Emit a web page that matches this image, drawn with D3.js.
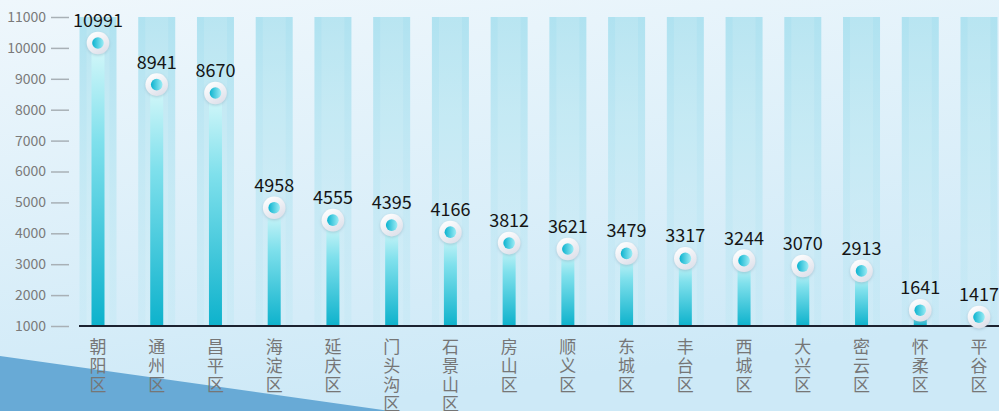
<!DOCTYPE html>
<meta charset="utf-8">
<head>
<script src="https://cdnjs.cloudflare.com/ajax/libs/d3/7.8.5/d3.min.js"></script>
<style>
body { margin:0; overflow:hidden; }
#chart { width:999px; height:411px; }
text { font-family: "Noto Sans CJK SC", "Noto Sans", sans-serif; }
</style>
</head>
<body>
<div id="chart"></div>
<script>

// data
var districts = ['朝阳区','通州区','昌平区','海淀区','延庆区','门头沟区','石景山区','房山区','顺义区','东城区','丰台区','西城区','大兴区','密云区','怀柔区','平谷区'];
var values = [10991, 8941, 8670, 4958, 4555, 4395, 4166, 3812, 3621, 3479, 3317, 3244, 3070, 2913, 1641, 1417];
var yTicks = [1000, 2000, 3000, 4000, 5000, 6000, 7000, 8000, 9000, 10000, 11000];

var width = 999, height = 411;
var margin = {top: 17, left: 69, bottom: 85};

var svg = d3.select('#chart').append('svg')
    .attr('width', width)
    .attr('height', height);

var defs = svg.append('defs');

// background gradient
var bg = defs.append('linearGradient').attr('id','bg')
    .attr('x1',0).attr('y1',0).attr('x2',0.3).attr('y2',1);
bg.append('stop').attr('offset','0%').attr('stop-color','#eff7fc');
bg.append('stop').attr('offset','100%').attr('stop-color','#cde9f7');

// column gradient
var colG = defs.append('linearGradient').attr('id','col')
    .attr('x1',0).attr('y1',0).attr('x2',0).attr('y2',1);
colG.append('stop').attr('offset','0%').attr('stop-color','#a9e0ef').attr('stop-opacity',0.9);
colG.append('stop').attr('offset','100%').attr('stop-color','#b8e6f2').attr('stop-opacity',0.3);

// bar gradient (per bar)
var barG = defs.append('linearGradient').attr('id','bar')
    .attr('x1',0).attr('y1',0).attr('x2',0).attr('y2',1);
barG.append('stop').attr('offset','0%').attr('stop-color','#d8f8fa');
barG.append('stop').attr('offset','35%').attr('stop-color','#7fe0ec');
barG.append('stop').attr('offset','100%').attr('stop-color','#0db2cc');

// marker gradients
var ringG = defs.append('linearGradient').attr('id','ring')
    .attr('x1',0.2).attr('y1',0).attr('x2',0.8).attr('y2',1);
ringG.append('stop').attr('offset','0%').attr('stop-color','#ffffff');
ringG.append('stop').attr('offset','100%').attr('stop-color','#dcdfe9');

var dotG = defs.append('linearGradient').attr('id','dot')
    .attr('x1',0).attr('y1',0.5).attr('x2',1).attr('y2',0.5);
dotG.append('stop').attr('offset','0%').attr('stop-color','#0cb3cf');
dotG.append('stop').attr('offset','100%').attr('stop-color','#9cecf5');

var shadow = defs.append('filter').attr('id','shadow')
    .attr('x','-50%').attr('y','-50%').attr('width','200%').attr('height','200%');
shadow.append('feDropShadow').attr('dx',0).attr('dy',1).attr('stdDeviation',1.5)
    .attr('flood-color','#7a9bb0').attr('flood-opacity',0.45);

svg.append('rect').attr('width',width).attr('height',height).attr('fill','url(#bg)');

// decorative shape bottom-left
svg.append('path')
    .attr('d','M0,356 L390,411 L0,411 Z')
    .attr('fill','#68aad6');

// scales
var x = d3.scalePoint().domain(districts).range([98, 979]);
var step = x.step();
var colW = step * 0.63;
var barW = 13;

var y = d3.scaleLinear().domain([1000, 11000]).range([height - margin.bottom, margin.top]);
var base = y(1000);

// y axis
var yAxis = svg.append('g')
    .attr('transform','translate(' + margin.left + ',0)')
    .call(d3.axisLeft(y).tickValues(yTicks).tickFormat(d3.format('d')).tickSize(18).tickPadding(5));
yAxis.select('.domain').remove();
yAxis.selectAll('line').attr('stroke','#a8b0b6').attr('stroke-width',1.5);
yAxis.selectAll('text').attr('fill','#7a7a7a').style('font-size','14px');

// columns
svg.selectAll('.col').data(districts).enter().append('rect')
    .attr('class','col')
    .attr('x', function(d){ return x(d) - colW/2; })
    .attr('y', y(11000))
    .attr('width', colW)
    .attr('height', base - y(11000))
    .attr('fill','url(#col)');

svg.selectAll('.colIn').data(districts).enter().append('rect')
    .attr('class','colIn')
    .attr('x', function(d){ return x(d) - 11.5; })
    .attr('y', y(11000))
    .attr('width', 23)
    .attr('height', base - y(11000))
    .attr('fill','#ffffff').attr('opacity',0.12);

// marker position: slightly under value, kept low enough for the label
function markY(v){ return Math.max(y(v) + 4, y(11000) + 26); }

// bars
svg.selectAll('.bar').data(values).enter().append('rect')
    .attr('class','bar')
    .attr('x', function(d,i){ return x(districts[i]) - barW/2; })
    .attr('y', function(d){ return markY(d); })
    .attr('width', barW)
    .attr('height', function(d){ return base - markY(d); })
    .attr('fill','url(#bar)');

// baseline
svg.append('line')
    .attr('x1', 79).attr('x2', width)
    .attr('y1', base).attr('y2', base)
    .attr('stroke','#1b2230').attr('stroke-width',2);

// markers
var mk = svg.selectAll('.mk').data(values).enter().append('g')
    .attr('class','mk')
    .attr('transform', function(d,i){ return 'translate(' + x(districts[i]) + ',' + markY(d) + ')'; });
mk.append('circle').attr('r',11.3).attr('fill','url(#ring)').attr('filter','url(#shadow)');
mk.append('circle').attr('r',5.8).attr('fill','url(#dot)');

// value labels
svg.selectAll('.val').data(values).enter().append('text')
    .attr('class','val')
    .attr('x', function(d,i){ return x(districts[i]); })
    .attr('y', function(d){ return markY(d) - 16; })
    .attr('text-anchor','middle')
    .attr('fill','#151515')
    .style('font-size','18px')
    .text(function(d){ return d; });

// x labels, vertical
var xl = svg.selectAll('.xl').data(districts).enter().append('text')
    .attr('class','xl')
    .attr('fill','#767676')
    .attr('text-anchor','middle')
    .style('font-size','17px');
xl.each(function(d){
  var t = d3.select(this);
  d.split('').forEach(function(c,k){
    t.append('tspan')
      .attr('x', x(d))
      .attr('y', 353 + k*19)
      .text(c);
  });
});

</script>
</body>
